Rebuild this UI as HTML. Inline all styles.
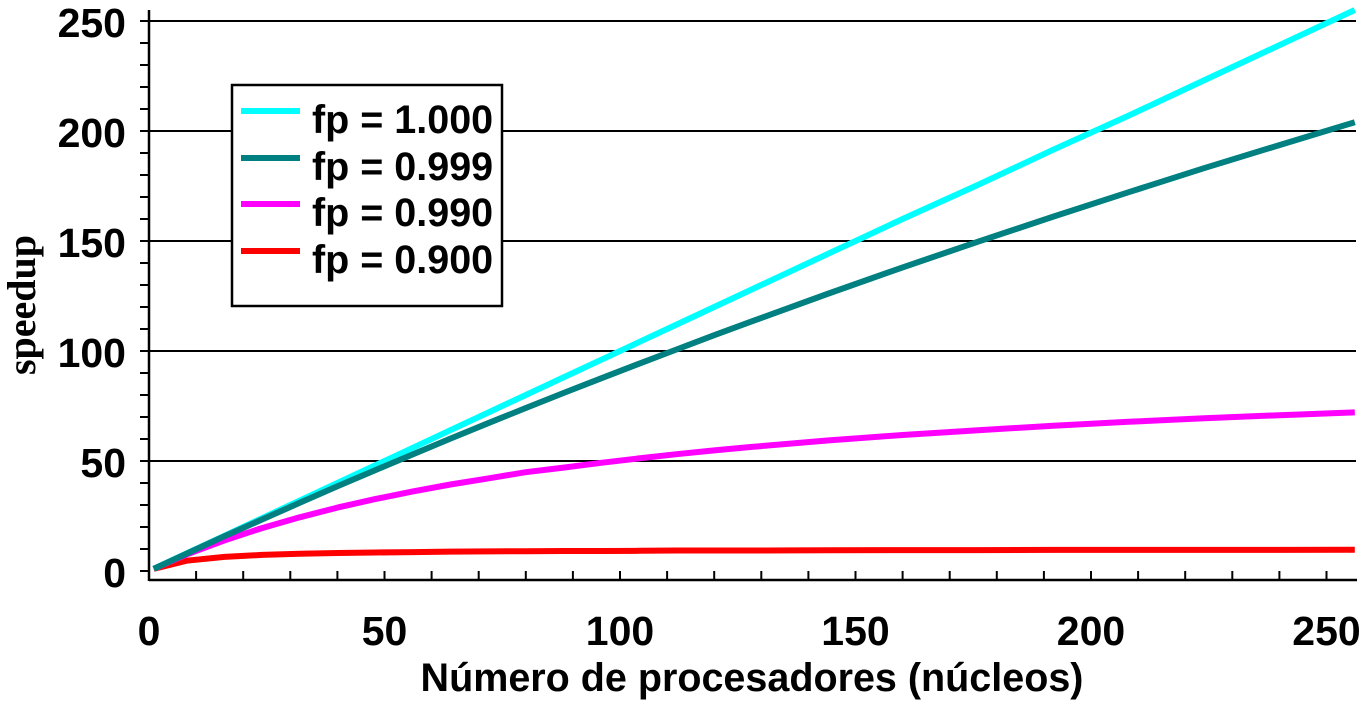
<!DOCTYPE html>
<html><head><meta charset="utf-8"><style>
html,body{margin:0;padding:0;background:#fff;}
svg{display:block;font-family:"Liberation Sans",Arial,sans-serif;font-weight:bold;}
</style></head><body>
<svg id="chart" width="1364" height="701" viewBox="0 0 1364 701" xmlns="http://www.w3.org/2000/svg">
<g id="grid"></g>
<g id="axes"></g>
<g id="series"></g>
<text transform="translate(35,305) rotate(-90)" text-anchor="middle" font-family="Liberation Serif,serif" font-size="40" font-weight="bold">speedup</text>
<text x="752" y="691" text-anchor="middle" font-size="39.5">Número de procesadores (núcleos)</text>
<g>
<rect x="232" y="85" width="270" height="221" fill="#fff" stroke="#000" stroke-width="2.5"/>
<g><line x1="241" y1="111" x2="300" y2="111" stroke="#00ffff" stroke-width="6"/><text x="312" y="133" font-size="39.5">fp = 1.000</text></g>
<g><line x1="241" y1="158" x2="300" y2="158" stroke="#008080" stroke-width="6"/><text x="312" y="180" font-size="39.5">fp = 0.999</text></g>
<g><line x1="241" y1="204" x2="300" y2="204" stroke="#ff00ff" stroke-width="6"/><text x="312" y="226" font-size="39.5">fp = 0.990</text></g>
<g><line x1="241" y1="251" x2="300" y2="251" stroke="#ff0000" stroke-width="6"/><text x="312" y="273" font-size="39.5">fp = 0.900</text></g>
</g>
</svg>
<script>
const procs = [1,8,16,24,32,40,48,56,64,72,80,88,96,104,112,120,128,144,160,176,192,208,224,240,256];
const fp1000 = [1,8,16,24,32,40,48,56,64,72,80,88,96,104,112,120,128,144,160,175.5,191.5,207,223,239,255];
const fp0999 = [1,7.9,15.8,23.4,31.0,38.5,45.8,53.0,60.2,67.2,74.1,80.9,87.6,94.2,100.7,107.2,113.5,125.9,138.0,149.7,161.1,172.2,183.1,193.6,204.0];
const fp0990 = [1,7.5,13.9,19.5,24.4,28.8,32.7,36.2,39.3,42.1,44.9,47.0,49.2,51.2,53.1,54.8,56.4,59.3,61.8,64.0,66.0,67.8,69.4,70.8,72.1];
const fp0900 = [1,4.7,6.4,7.3,7.8,8.2,8.4,8.6,8.8,8.9,9.0,9.1,9.1,9.2,9.3,9.3,9.3,9.4,9.5,9.5,9.6,9.6,9.6,9.6,9.7];
const xTicks = [0,50,100,150,200,250];
const yTicks = [0,50,100,150,200,250];
const NS='http://www.w3.org/2000/svg';
const X0=149, XR=4.71, Y0=571, YR=2.2, AXY=580;
const xs=v=>X0+v*XR, ys=v=>Y0-v*YR;
function mk(tag,attrs,parent){const e=document.createElementNS(NS,tag);for(const k in attrs)e.setAttribute(k,attrs[k]);parent.appendChild(e);return e;}
const grid=document.getElementById('grid'), axes=document.getElementById('axes'), ser=document.getElementById('series');
yTicks.forEach(v=>{ if(v>0){const l=mk('line',{x1:X0,x2:1356,y1:ys(v),y2:ys(v),stroke:'#000','stroke-width':2},grid);

}
const t=mk('text',{x:126,y:ys(v)+16,'text-anchor':'end','font-size':41},axes);t.textContent=v;

});
for(let v=0;v<=250;v+=10){const l=mk('line',{x1:X0-9,x2:X0,y1:ys(v),y2:ys(v),stroke:'#000','stroke-width':2},axes);

}
for(let v=10;v<=250;v+=10){const l=mk('line',{x1:xs(v),x2:xs(v),y1:AXY-9,y2:AXY,stroke:'#000','stroke-width':2},axes);

}
xTicks.forEach(v=>{const t=mk('text',{x:xs(v),y:645,'text-anchor':'middle','font-size':41},axes);t.textContent=v;

});
const ya=mk('line',{x1:X0,x2:X0,y1:10,y2:AXY+1,stroke:'#000','stroke-width':2.5},axes);


const xa=mk('line',{x1:X0,x2:1357,y1:AXY,y2:AXY,stroke:'#000','stroke-width':2.5},axes);


[[fp0900,'#ff0000','line-fp-0900'],[fp0990,'#ff00ff','line-fp-0990'],[fp1000,'#00ffff','line-fp-1000'],[fp0999,'#008080','line-fp-0999']].forEach(([d,c,n])=>{
const pts=procs.map((p,i)=>xs(p).toFixed(1)+','+ys(d[i]).toFixed(1)).join(' ');
const pl=mk('polyline',{points:pts,fill:'none',stroke:c,'stroke-width':6,'stroke-linejoin':'round'},ser);

});
</script>
</body></html>
